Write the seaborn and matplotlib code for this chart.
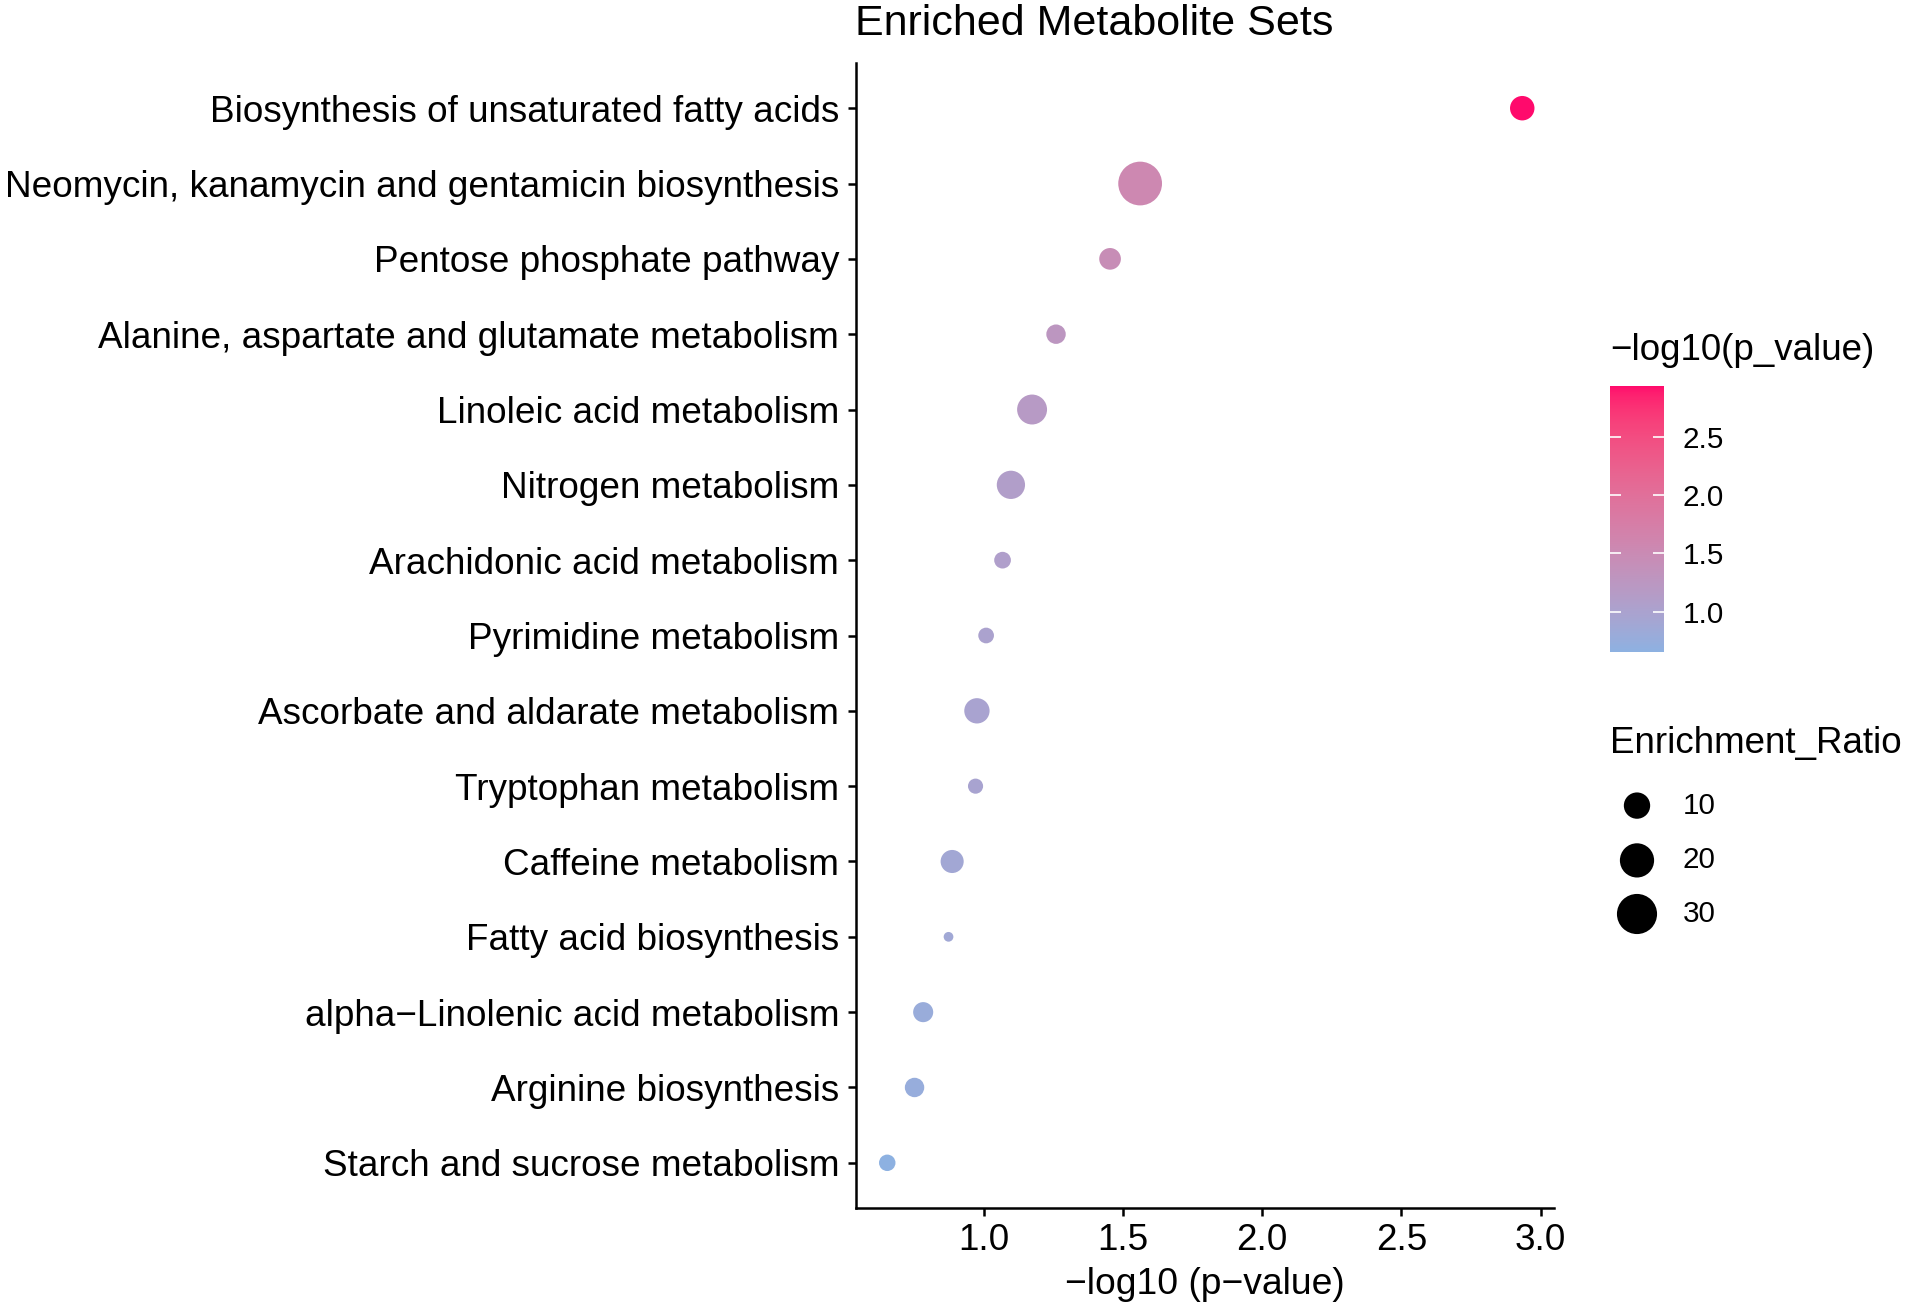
import numpy as np
import pandas as pd
import matplotlib
matplotlib.use("Agg")
import matplotlib.pyplot as plt
import matplotlib.colors as mcolors
import matplotlib.cm as cm
import seaborn as sns

# ---------------- data ----------------
pathways = [
    "Biosynthesis of unsaturated fatty acids",
    "Neomycin, kanamycin and gentamicin biosynthesis",
    "Pentose phosphate pathway",
    "Alanine, aspartate and glutamate metabolism",
    "Linoleic acid metabolism",
    "Nitrogen metabolism",
    "Arachidonic acid metabolism",
    "Pyrimidine metabolism",
    "Ascorbate and aldarate metabolism",
    "Tryptophan metabolism",
    "Caffeine metabolism",
    "Fatty acid biosynthesis",
    "alpha\u2212Linolenic acid metabolism",
    "Arginine biosynthesis",
    "Starch and sucrose metabolism",
]
neg_log10_p = [2.934, 1.562, 1.454, 1.260, 1.174, 1.098, 1.068, 1.009,
               0.976, 0.971, 0.887, 0.874, 0.783, 0.752, 0.654]
enrichment_ratio = [8.2, 37.2, 5.9, 4.4, 14.1, 12.1, 3.0, 2.6,
                    9.0, 2.4, 7.0, 1.5, 4.8, 4.4, 2.9]
x_ticks = [1.0, 1.5, 2.0, 2.5, 3.0]
cbar_ticks = [1.0, 1.5, 2.0, 2.5]
size_legend_values = [10, 20, 30]

df = pd.DataFrame({"pathway": pathways, "p": neg_log10_p, "ratio": enrichment_ratio})

W, H, DPI = 1907, 1306, 100
def fx(x): return x / W
def fy(y): return 1 - y / H

sns.set_theme(style="white")
plt.rcParams["font.family"] = ["Liberation Sans", "DejaVu Sans"]

# ---------------- colour scale (Lab interpolation like ggplot) ----------------
def _lin(c):
    return np.where(c <= 0.04045, c / 12.92, ((c + 0.055) / 1.055) ** 2.4)
def _gam(c):
    c = np.clip(c, 0, 1)
    return np.where(c <= 0.0031308, 12.92 * c, 1.055 * c ** (1 / 2.4) - 0.055)
_M = np.array([[0.4124, 0.3576, 0.1805], [0.2126, 0.7152, 0.0722], [0.0193, 0.1192, 0.9505]])
_WP = np.array([0.95047, 1.0, 1.08883])
def _f(t):
    d = 6 / 29
    return np.where(t > d ** 3, np.cbrt(t), t / (3 * d * d) + 4 / 29)
def _finv(t):
    d = 6 / 29
    return np.where(t > d, t ** 3, 3 * d * d * (t - 4 / 29))
def rgb2lab(rgb):
    xyz = _M @ _lin(np.asarray(rgb)) / _WP
    fX, fY, fZ = _f(xyz)
    return np.array([116 * fY - 16, 500 * (fX - fY), 200 * (fY - fZ)])
def lab2rgb(lab):
    L, a, b = lab
    fY = (L + 16) / 116
    xyz = np.array([_finv(fY + a / 500), _finv(fY), _finv(fY - b / 200)]) * _WP
    return _gam(np.linalg.inv(_M) @ xyz)

low_lab = rgb2lab(mcolors.to_rgb("#8DB1E1"))
high_lab = rgb2lab(mcolors.to_rgb("#FF0A6C"))
cols = [lab2rgb(low_lab + (high_lab - low_lab) * t) for t in np.linspace(0, 1, 256)]
cmap = mcolors.LinearSegmentedColormap.from_list("gg", cols)
hue_norm = mcolors.Normalize(vmin=min(neg_log10_p), vmax=max(neg_log10_p))

# ---------------- size scale (ggplot-like area scale with offset) ----------------
A_PT, B_PT = 7.0, 24.5
VMIN, VMAX = min(enrichment_ratio), max(enrichment_ratio)
def _fwd(v):
    t = np.clip((np.asarray(v, dtype=float) - VMIN) / (VMAX - VMIN), 0, None)
    return (A_PT + B_PT * np.sqrt(t)) ** 2
def _inv(s):
    return VMIN + (VMAX - VMIN) * ((np.sqrt(np.asarray(s, dtype=float)) - A_PT) / B_PT) ** 2
size_norm = mcolors.FuncNorm((_fwd, _inv), vmin=VMIN, vmax=VMAX)
SMIN, SMAX = A_PT ** 2, (A_PT + B_PT) ** 2

# ---------------- figure ----------------
fig = plt.figure(figsize=(W / DPI, H / DPI), dpi=DPI)
left, right, top, bottom = 855.5, 1554, 63, 1208
ax = fig.add_axes([fx(left), fy(bottom), fx(right - left), (bottom - top) / H])

sns.scatterplot(data=df, x="p", y="pathway", hue="p", palette=cmap, hue_norm=hue_norm,
                size="ratio", sizes=(SMIN, SMAX), size_norm=size_norm,
                linewidth=0, alpha=1, legend=False, ax=ax)

n = len(pathways)
ax.set_ylim(n - 1 + 0.6, -0.6)
rng = max(neg_log10_p) - min(neg_log10_p)
ax.set_xlim(min(neg_log10_p) - 0.05 * rng, max(neg_log10_p) + 0.05 * rng)
ax.set_xticks(x_ticks)
ax.set_xticklabels([f"{t:.1f}" for t in x_ticks])
ax.set_xlabel("")
ax.set_ylabel("")
for s in ["top", "right"]:
    ax.spines[s].set_visible(False)
for s in ["left", "bottom"]:
    ax.spines[s].set_linewidth(1.8)
    ax.spines[s].set_color("black")
ax.tick_params(axis="both", which="major", length=5.8, width=1.8, color="black",
               labelsize=26.6, labelcolor="black", left=True, bottom=True)
ax.tick_params(axis="y", pad=6)
ax.tick_params(axis="x", pad=5)
ax.grid(False)

fig.text(fx(855), fy(35), "Enriched Metabolite Sets", fontsize=31, ha="left",
         va="baseline", color="black")
fig.text(fx((left + right) / 2), fy(1284), "\u2212log10 (p\u2212value)", fontsize=26.8,
         ha="center", va="center", color="black")

# ---------------- colour bar legend ----------------
fig.text(fx(1610), fy(350.5), "\u2212log10(p_value)", fontsize=26.5, ha="left",
         va="center", color="black")
cax = fig.add_axes([fx(1610), fy(652), fx(54), 266 / H])
sm = cm.ScalarMappable(norm=hue_norm, cmap=cmap)
cb = fig.colorbar(sm, cax=cax, ticks=cbar_ticks)
cb.outline.set_visible(False)
cb.ax.tick_params(length=0, labelsize=21.3, pad=13.5, labelcolor="black")
cb.ax.set_yticklabels([f"{t:.1f}" for t in cbar_ticks])
cb.ax.hlines(cbar_ticks, 0, 0.2, colors="white", linewidth=1.2)
cb.ax.hlines(cbar_ticks, 0.8, 1.0, colors="white", linewidth=1.2)

# ---------------- size legend ----------------
fig.text(fx(1610), fy(743.6), "Enrichment_Ratio", fontsize=26.5, ha="left",
         va="center", color="black")
lax = fig.add_axes([0, 0, 1, 1], facecolor="none")
lax.set_xlim(0, W)
lax.set_ylim(H, 0)
lax.axis("off")
key_y = [805.6, 860.4, 914.0]
leg_sizes = [SMIN + float(size_norm(v)) * (SMAX - SMIN) for v in size_legend_values]
lax.scatter([1637] * len(key_y), key_y, s=leg_sizes, color="black", linewidths=0)
for yy, v in zip(key_y, size_legend_values):
    lax.text(1683, yy, str(v), fontsize=21.3, ha="left", va="center", color="black")

fig.savefig("out.png", dpi=DPI, facecolor="white")
